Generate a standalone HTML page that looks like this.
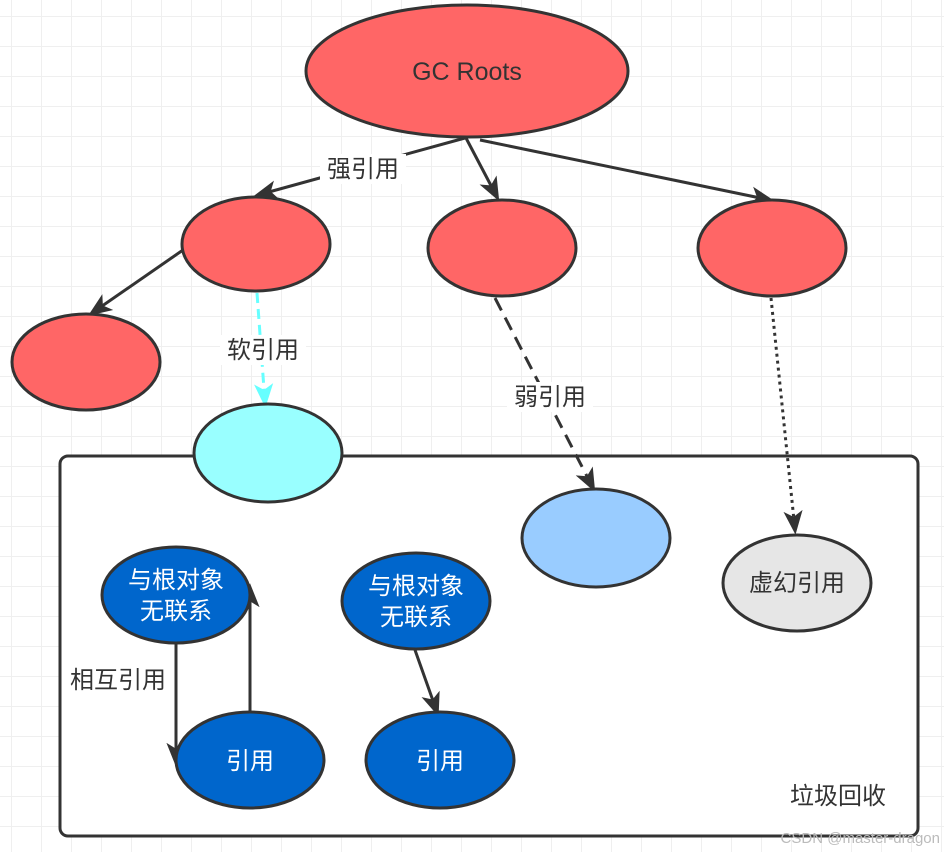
<!DOCTYPE html>
<html><head><meta charset="utf-8"><style>
body{margin:0;width:944px;height:852px;overflow:hidden;background:#fff}
svg text{font-family:"Liberation Sans","Noto Sans CJK SC",sans-serif}
</style></head><body>
<svg width="944" height="852" viewBox="0 0 944 852" xmlns="http://www.w3.org/2000/svg">
<defs>
<pattern id="g" x="11" y="16" width="30" height="30" patternUnits="userSpaceOnUse">
<path d="M0 0H30M0 0V30" stroke="#efefef" stroke-width="2" fill="none"/>
</pattern>
<marker id="a" viewBox="0 0 10 10" refX="8" refY="5" markerWidth="24" markerHeight="24" markerUnits="userSpaceOnUse" orient="auto"><path d="M0 1L10 5L0 9L2.5 5Z" fill="#333"/></marker>
<marker id="ac" viewBox="0 0 10 10" refX="8" refY="5" markerWidth="24" markerHeight="24" markerUnits="userSpaceOnUse" orient="auto"><path d="M0 1L10 5L0 9L2.5 5Z" fill="#66ffff"/></marker>
</defs>
<rect width="944" height="852" fill="url(#g)"/>
<rect x="60" y="456" width="858" height="380" rx="8" fill="#fff" stroke="#333" stroke-width="3"/>
<g stroke="#333" stroke-width="3" fill="none">
<line x1="465" y1="138" x2="258" y2="195" marker-end="url(#a)"/>
<line x1="466" y1="138" x2="497" y2="197" marker-end="url(#a)"/>
<line x1="480" y1="140" x2="770" y2="200" marker-end="url(#a)"/>
<line x1="183" y1="250" x2="92" y2="313" marker-end="url(#a)"/>
<line x1="257" y1="293" x2="265" y2="403" stroke="#66ffff" stroke-dasharray="10 6" marker-end="url(#ac)"/>
<line x1="495" y1="298" x2="593" y2="488" stroke-dasharray="14 8" marker-end="url(#a)"/>
<line x1="771" y1="298" x2="795" y2="530" stroke-dasharray="3 4" marker-end="url(#a)"/>
<line x1="176" y1="643" x2="176" y2="762" marker-end="url(#a)"/>
<line x1="250" y1="712" x2="250" y2="588" marker-end="url(#a)"/>
<line x1="415" y1="650" x2="437" y2="712" marker-end="url(#a)"/>
</g>
<g stroke="#333" stroke-width="3">
<ellipse cx="467" cy="71" rx="161" ry="66" fill="#ff6666"/>
<ellipse cx="256" cy="244" rx="74" ry="47" fill="#ff6666"/>
<ellipse cx="502" cy="248" rx="74" ry="48" fill="#ff6666"/>
<ellipse cx="772" cy="248" rx="74" ry="48" fill="#ff6666"/>
<ellipse cx="86" cy="362" rx="74" ry="48" fill="#ff6666"/>
<ellipse cx="268" cy="453" rx="74" ry="49" fill="#99ffff"/>
<ellipse cx="596" cy="538" rx="74" ry="49" fill="#99ccff"/>
<ellipse cx="797" cy="583" rx="74" ry="48" fill="#e6e6e6"/>
<ellipse cx="176" cy="595" rx="74" ry="48" fill="#0066cc"/>
<ellipse cx="416" cy="601" rx="74" ry="48" fill="#0066cc"/>
<ellipse cx="250" cy="760" rx="74" ry="48" fill="#0066cc"/>
<ellipse cx="440" cy="760" rx="74" ry="48" fill="#0066cc"/>
</g>
<g font-size="24" text-anchor="middle">
<text x="467" y="80" fill="#333" font-size="25">GC Roots</text>
<rect x="320" y="154" width="86" height="30" fill="#fff"/>
<text x="363" y="177" fill="#333">强引用</text>
<rect x="220" y="335" width="86" height="30" fill="#fff"/>
<text x="263" y="358" fill="#333">软引用</text>
<rect x="507" y="382" width="86" height="30" fill="#fff"/>
<text x="550" y="405" fill="#333">弱引用</text>
<text x="797" y="591" fill="#333">虚幻引用</text>
<text x="176" y="588" fill="#fff">与根对象</text>
<text x="176" y="619" fill="#fff">无联系</text>
<text x="416" y="594" fill="#fff">与根对象</text>
<text x="416" y="625" fill="#fff">无联系</text>
<text x="250" y="769" fill="#fff">引用</text>
<text x="440" y="769" fill="#fff">引用</text>
<text x="118" y="688" fill="#333">相互引用</text>
<text x="838" y="804" fill="#333">垃圾回收</text>
</g>
<text x="940" y="843" font-size="15" fill="#bbb" text-anchor="end">CSDN @master-dragon</text>
</svg>
</body></html>
